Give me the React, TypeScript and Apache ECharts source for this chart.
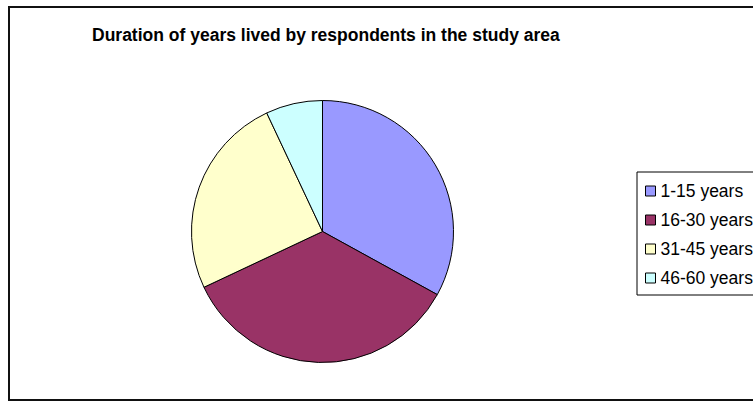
import React, { useEffect, useRef } from "react";
import * as echarts from "echarts";

const categories = ["1-15 years", "16-30 years", "31-45 years", "46-60 years"];
const values = [33, 35, 25, 7];
const colors = ["#9999FF", "#993366", "#FFFFCC", "#CCFFFF"];
const titleText = "Duration of years lived by respondents in the study area";

const FONT = 'Arial, "Liberation Sans", sans-serif';

export default function App() {
  const ref = useRef<HTMLDivElement>(null);
  useEffect(() => {
    if (!ref.current) return;
    const chart = echarts.init(ref.current, undefined, { renderer: "svg" });
    chart.setOption({
      animation: false,
      backgroundColor: "#ffffff",
      title: {
        text: titleText,
        left: 92,
        top: 26,
        padding: 0,
        textStyle: { fontFamily: FONT, fontSize: 17.5, fontWeight: "bold", color: "#000" },
      },
      legend: {
        orient: "vertical",
        left: 637,
        top: 172,
        padding: [10, 30, 8, 8],
        borderColor: "#000",
        borderWidth: 1,
        icon: "rect",
        itemWidth: 10,
        itemHeight: 10,
        itemGap: 11,
        itemTextGap: 4,
        selectedMode: false,
        itemStyle: { borderColor: "#000", borderWidth: 1 },
        textStyle: { fontFamily: FONT, fontSize: 17.5, lineHeight: 16, color: "#000" },
        data: categories,
      },
      graphic: [
        {
          type: "rect",
          shape: { x: 9, y: 7, width: 780, height: 393 },
          style: { fill: "none", stroke: "#111", lineWidth: 2 },
          silent: true,
        },
      ],
      series: [
        {
          type: "pie",
          center: [322.5, 231.5],
          radius: 131,
          startAngle: 90,
          clockwise: true,
          label: { show: false },
          labelLine: { show: false },
          emphasis: { disabled: true },
          itemStyle: { borderColor: "#000", borderWidth: 1 },
          data: categories.map((c, i) => ({
            name: c,
            value: values[i],
            itemStyle: { color: colors[i] },
          })),
        },
      ],
    });
    return () => chart.dispose();
  }, []);
  return (
    <div
      ref={ref}
      style={{ position: "fixed", left: 0, top: 0, width: 753, height: 401 }}
    />
  );
}
